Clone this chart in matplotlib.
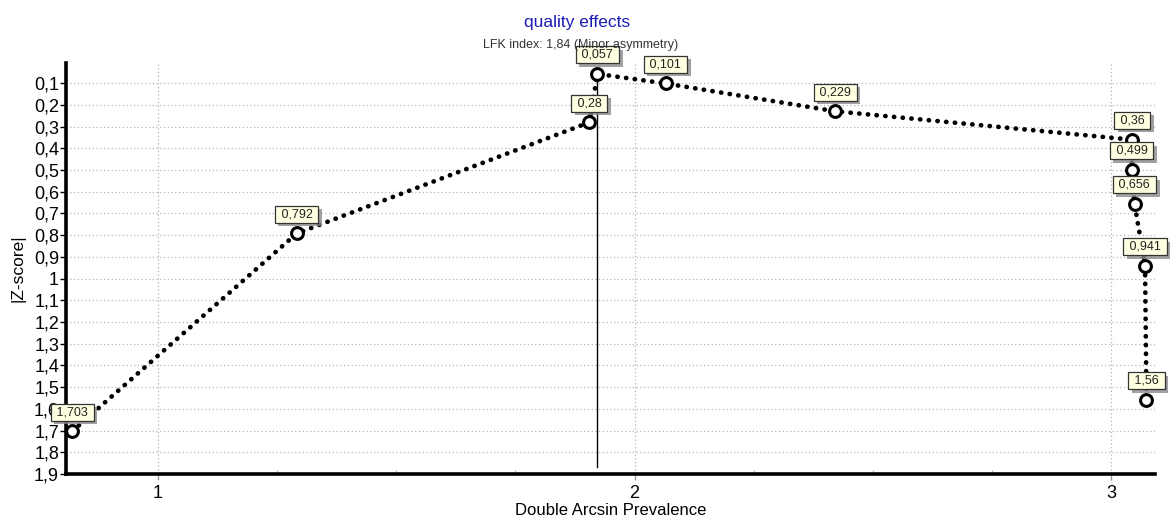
import matplotlib
matplotlib.use("Agg")
import matplotlib.pyplot as plt
import matplotlib.patheffects as pe
from matplotlib.ticker import FixedLocator, MultipleLocator

plt.rcParams['font.family'] = ['Liberation Sans', 'DejaVu Sans']

# Doi plot data: double arcsin prevalence vs |Z-score|
prevalence = [0.820, 1.291, 1.905, 1.922, 2.065, 2.421, 3.044, 3.043, 3.049, 3.071, 3.074]
abs_z = [1.703, 0.792, 0.28, 0.057, 0.101, 0.229, 0.36, 0.499, 0.656, 0.941, 1.56]
point_labels = ["1,703", "0,792", "0,28", "0,057", "0,101", "0,229", "0,36", "0,499", "0,656", "0,941", "1,56"]

y_ticks = [0.1, 0.2, 0.3, 0.4, 0.5, 0.6, 0.7, 0.8, 0.9, 1.0, 1.1, 1.2, 1.3, 1.4, 1.5, 1.6, 1.7, 1.8, 1.9]
y_tick_labels = ["0,1", "0,2", "0,3", "0,4", "0,5", "0,6", "0,7", "0,8", "0,9", "1", "1,1", "1,2",
                 "1,3", "1,4", "1,5", "1,6", "1,7", "1,8", "1,9"]
x_ticks = [1, 2, 3]
x_tick_labels = ["1", "2", "3"]

title = "quality effects"
subtitle = "LFK index: 1,84 (Minor asymmetry)"

fig = plt.figure(figsize=(11.73, 5.22), dpi=100)
ax = fig.add_axes([0.0563, 0.092, 0.9284, 0.788])

ax.set_xlim(0.807, 3.092)
ax.set_ylim(1.9, 0.005)

# grid
for yv in y_ticks:
    ax.axhline(yv, color="#b4b4b4", lw=0.9, ls=(0, (1, 2)), zorder=0)
for xv in x_ticks:
    ax.axvline(xv, color="#b4b4b4", lw=0.9, ls=(0, (1, 2)), zorder=0)

# vertical line through the point with the smallest |Z|
imin = abs_z.index(min(abs_z))
ax.plot([prevalence[imin], prevalence[imin]], [abs_z[imin], 1.867], color="black", lw=1.0, zorder=2)

# dotted curve with open circles
ax.plot(prevalence, abs_z, color="black", lw=3.4, ls=(0, (0.05, 1.8)),
        dash_capstyle="round", solid_capstyle="round", zorder=3)
ax.plot(prevalence, abs_z, ls="none", marker="o", ms=8.5, mfc="white", mec="black",
        mew=2.2, zorder=4)

# value labels
for xv, yv, lab in zip(prevalence, abs_z, point_labels):
    t = ax.annotate(" " + lab + " ", (xv, yv), xytext=(0, 9.5), textcoords="offset points",
                    ha="center", va="bottom", fontsize=9, color="#222222", zorder=6,
                    annotation_clip=False,
                    bbox=dict(boxstyle="square,pad=0.2", fc="#ffffe1", ec="#333333", lw=0.9))
    t.get_bbox_patch().set_path_effects([
        pe.SimplePatchShadow(offset=(2.5, -2.5), shadow_rgbFace="#8a8a8a", alpha=0.8),
        pe.Normal()])

# axes styling
for s in ("top", "right"):
    ax.spines[s].set_visible(False)
for s in ("left", "bottom"):
    ax.spines[s].set_linewidth(2.6)
    ax.spines[s].set_color("black")

ax.yaxis.set_major_locator(FixedLocator(y_ticks))
ax.set_yticklabels(y_tick_labels, fontsize=13)
ax.xaxis.set_major_locator(FixedLocator(x_ticks))
ax.set_xticklabels(x_tick_labels, fontsize=13)
ax.xaxis.set_minor_locator(MultipleLocator(0.25))
ax.tick_params(axis="y", direction="out", length=4, width=1, pad=1)
ax.tick_params(axis="x", which="major", direction="out", length=4, width=1, color="#999999", pad=4)
ax.tick_params(axis="x", which="minor", direction="in", length=3, width=1, color="#bbbbbb")

ax.set_xlabel("Double Arcsin Prevalence", fontsize=12, labelpad=1)
fig.text(18 / 1173, 1 - 268 / 522, "|Z-score|", rotation=90, ha="center", va="center", fontsize=12.5)

fig.text(577 / 1173, 1 - 23 / 522, title, ha="center", va="center", fontsize=12.5, color="#1c1cb4")
fig.text(581 / 1173, 1 - 45 / 522, subtitle, ha="center", va="center", fontsize=9, color="#333333")

fig.savefig("out.png", dpi=100)
